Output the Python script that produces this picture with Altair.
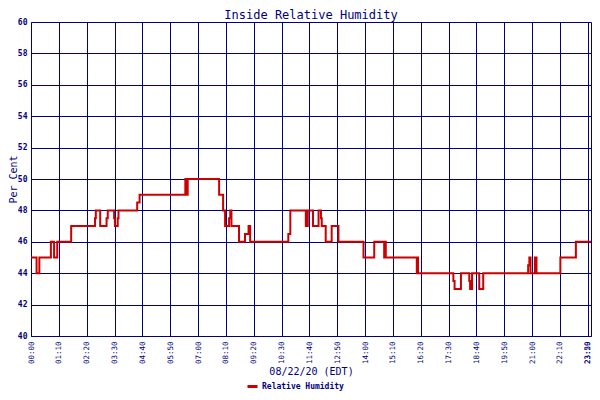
import altair as alt
import pandas as pd

# change points (minutes after midnight) and relative humidity (%)
minutes = [0, 14, 21, 50, 58, 66, 101, 161, 163, 174, 190, 193, 209, 211, 218, 220,
           267, 273, 388, 391, 394, 473, 483, 488, 498, 501, 504, 523, 538, 547, 551,
           647, 652, 691, 696, 709, 723, 729, 731, 741, 756, 773, 836, 863, 888, 890,
           892, 970, 972, 973, 1062, 1065, 1081, 1102, 1104, 1109, 1127, 1137, 1250,
           1253, 1256, 1267, 1271, 1331, 1370, 1408]
humidity = [45, 44, 45, 46, 45, 46, 47, 47.5, 48, 47, 47.5, 48, 47.5, 47, 47.5, 48,
            48.5, 49, 50, 49, 50, 49, 48, 47, 47.5, 48, 47, 46, 46.5, 47, 46,
            46.5, 48, 47, 48, 47, 48, 47.5, 47, 46, 47, 46, 45, 46, 45, 46,
            45, 44, 45, 44, 43.5, 43, 44, 43.5, 43, 44, 43, 44, 44.5,
            45, 44, 45, 44, 45, 46, 46]

tick_minutes = [0, 70, 140, 210, 280, 350, 420, 490, 560, 630, 700, 770, 840, 910,
                980, 1050, 1120, 1190, 1260, 1330, 1400, 1408]
tick_labels = ["00:00", "01:10", "02:20", "03:30", "04:40", "05:50", "07:00", "08:10",
               "09:20", "10:30", "11:40", "12:50", "14:00", "15:10", "16:20", "17:30",
               "18:40", "19:50", "21:00", "22:10", "23:20", "23:59"]
y_ticks = [40, 42, 44, 46, 48, 50, 52, 54, 56, 58, 60]

df = pd.DataFrame({"minute": minutes, "rh": humidity, "series": "Relative Humidity"})

NAVY = "#000080"
FONT = "DejaVu Sans Mono"

lab_arr = "[" + ",".join("'%s'" % s for s in tick_labels) + "]"
min_arr = "[" + ",".join(str(m) for m in tick_minutes) + "]"
label_expr = f"{lab_arr}[indexof({min_arr}, datum.value)]"

PLOT_W = 560
PLOT_H = 314

chart = alt.Chart(df).mark_line(
    interpolate="step-after", strokeWidth=2, clip=True
).encode(
    x=alt.X(
        "minute:Q",
        scale=alt.Scale(domain=[0, 1408], nice=False, zero=False),
        axis=alt.Axis(
            values=tick_minutes, labelExpr=label_expr, labelAngle=270,
            labelAlign="right",
            labelBaseline={"condition": {"test": "datum.value >= 1408", "value": "bottom"},
                           "value": "middle"},
            labelPadding=5,
            labelFont=FONT, labelFontSize=7.5, labelColor=NAVY,
            labelOverlap=False, labelBound=False, labelFlush=False,
            ticks=False, grid=True, gridColor=NAVY, gridOpacity=1, gridWidth=1,
            domainColor=NAVY, domainWidth=1,
            title="08/22/20 (EDT)", titleFont=FONT, titleFontSize=10,
            titleFontWeight="normal", titleColor=NAVY,
            titleX=PLOT_W / 2, titleY=35, titleAlign="center", titleBaseline="middle",
        ),
    ),
    y=alt.Y(
        "rh:Q",
        scale=alt.Scale(domain=[40, 60], nice=False, zero=False),
        axis=alt.Axis(
            values=y_ticks, labelFont=FONT, labelFontSize=8, labelFontWeight="bold",
            labelColor=NAVY, labelPadding=4, ticks=False,
            grid=True, gridColor=NAVY, gridOpacity=1, gridWidth=1,
            domainColor=NAVY, domainWidth=1,
            title="Per Cent", titleFont=FONT, titleFontSize=10,
            titleFontWeight="normal", titleColor=NAVY, titleAngle=270,
            titleX=-18, titleY=PLOT_H / 2, titleAlign="center", titleBaseline="middle",
        ),
    ),
    color=alt.Color(
        "series:N",
        scale=alt.Scale(range=["#CC0000"]),
        legend=alt.Legend(
            title=None, orient="none", legendX=215, legendY=PLOT_H + 44, padding=0,
            symbolType="stroke", symbolStrokeWidth=3, symbolSize=100,
            labelFont=FONT, labelFontSize=8, labelFontWeight="bold",
            labelColor=NAVY, labelOffset=3,
        ),
    ),
).properties(
    width=PLOT_W,
    height=PLOT_H,
    autosize="none",
    padding={"left": 23, "top": 14, "right": 1, "bottom": 56},
    title=alt.TitleParams(
        "Inside Relative Humidity", font=FONT, fontSize=12, fontWeight="normal",
        color=NAVY, anchor="middle", offset=1, frame="group", dy=5,
    ),
).configure_view(stroke=NAVY, strokeWidth=1).configure(background="white")

chart.save("out.html", embed_options={"renderer": "svg", "actions": False})
